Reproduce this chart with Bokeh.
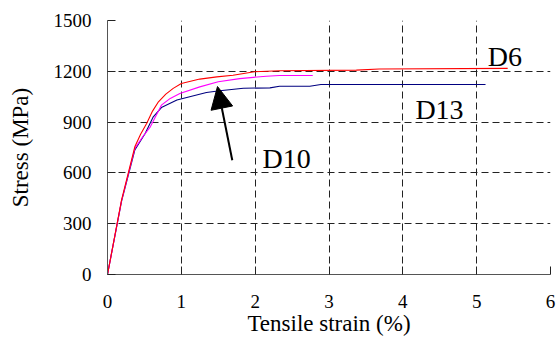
from bokeh.plotting import figure
from bokeh.models import Range1d, FixedTicker, Arrow, NormalHead, Label
from bokeh.embed import file_html
from bokeh.resources import INLINE

# D6 (red)
d6_strain = [0.0, 0.19, 0.37, 0.45, 0.53, 0.61, 0.69, 0.79, 0.89, 1.00, 1.25, 1.48, 1.70, 1.99, 2.33, 3.37, 3.68, 5.42]
d6_stress = [0, 439, 754, 830, 892, 965, 1020, 1065, 1099, 1128, 1154, 1167, 1177, 1197, 1203, 1207, 1214, 1217]
# D10 (magenta)
d10_strain = [0.0, 0.19, 0.37, 0.48, 0.58, 0.73, 0.85, 0.98, 1.25, 1.50, 1.79, 2.15, 2.33, 2.78]
d10_stress = [0, 435, 745, 815, 872, 1000, 1040, 1069, 1108, 1138, 1157, 1171, 1175, 1175]
# D13 (blue)
d13_strain = [0.0, 0.19, 0.37, 0.51, 0.62, 0.73, 0.94, 1.14, 1.34, 1.52, 1.84, 2.20, 2.33, 2.74, 2.89, 5.12]
d13_stress = [0, 432, 735, 833, 931, 986, 1030, 1053, 1075, 1085, 1100, 1102, 1112, 1112, 1122, 1122]

x_ticks = [0, 1, 2, 3, 4, 5, 6]
y_ticks = [0, 300, 600, 900, 1200, 1500]

FONT = "Liberation Serif"

p = figure(width=556, height=338, output_backend="svg", toolbar_location=None,
           x_range=Range1d(0, 6), y_range=Range1d(0, 1500),
           min_border_left=107, min_border_right=6, min_border_top=20, min_border_bottom=64)
p.outline_line_color = None
p.background_fill_color = "white"

xt = FixedTicker(ticks=x_ticks)
yt = FixedTicker(ticks=y_ticks)
p.xaxis.ticker = xt
p.yaxis.ticker = yt
p.xgrid.ticker = xt
p.ygrid.ticker = yt

for ax in (p.xaxis, p.yaxis):
    ax.major_tick_in = 8
    ax.major_tick_out = 0
    ax.minor_tick_line_color = None
    ax.axis_line_color = "#555555"
    ax.major_tick_line_color = "#222222"
    ax.major_label_text_font = FONT
    ax.major_label_text_font_size = "19px"
    ax.major_label_text_color = "black"
    ax.axis_label_text_font = FONT
    ax.axis_label_text_font_size = "23px"
    ax.axis_label_text_font_style = "normal"
    ax.axis_label_text_color = "black"

p.xaxis.axis_label = "Tensile strain (%)"
p.yaxis.axis_label = "Stress (MPa)"
p.xaxis.major_label_standoff = 20
p.xaxis.axis_label_standoff = 0
p.yaxis.major_label_standoff = 16
p.yaxis.axis_label_standoff = 18

for g in (p.xgrid, p.ygrid):
    g.grid_line_color = "#222222"
    g.grid_line_dash = "7 4"
    g.grid_line_width = 1

p.line(d13_strain, d13_stress, line_color="#000080", line_width=1.1)
p.line(d10_strain, d10_stress, line_color="#FF00FF", line_width=1.1)
p.line(d6_strain, d6_stress, line_color="#FF0000", line_width=1.1)

p.add_layout(Arrow(x_start=1.69, y_start=675, x_end=1.49, y_end=1110,
                   line_color="black", line_width=2,
                   end=NormalHead(size=22, fill_color="black", line_color="black")))

for txt, x, y in (("D6", 5.15, 1193), ("D13", 4.17, 880), ("D10", 2.1, 596)):
    p.add_layout(Label(x=x, y=y, text=txt, text_font=FONT, text_font_size="28px",
                       text_color="black"))

open("out.html", "w").write(file_html(p, INLINE))
